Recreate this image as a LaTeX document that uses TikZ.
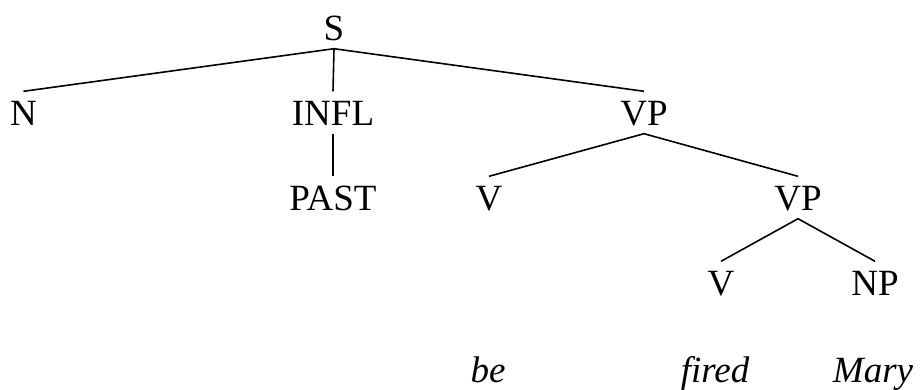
\documentclass[tikz,border=0pt]{standalone}
\usepackage{fontspec}
\setmainfont{Liberation Serif}
\usepackage{tikz}
\usetikzlibrary{positioning}

\begin{document}
\begin{tikzpicture}[x=1pt,y=-1pt,
    cat/.style={font=\fontsize{37}{40}\selectfont,anchor=base,inner xsep=0pt,inner ysep=8.5pt,text height=25pt,text depth=0pt},
    word/.style={font=\fontsize{37}{40}\selectfont\itshape,anchor=base,inner sep=0pt},
    branch/.style={line width=1.6pt}]
  \useasboundingbox (0,0) rectangle (920,389);
  % categories
  \node[cat] (s) at (334,40) {S};
  \node[cat] (n) at (23.5,125) {N};
  \node[cat] (infl) at (333,125) {INFL};
  \node[cat] (vpa) at (644,125) {VP};
  \node[cat] (past) at (333,210) {PAST};
  \node[cat] (va) at (489,210) {V};
  \node[cat] (vpb) at (798,210) {VP};
  \node[cat] (vb) at (721,295) {V};
  \node[cat] (np) at (875,295) {NP};
  % words
  \node[word] (be) at (488,382) {be};
  \node[word] (fired) at (715,382) {fired};
  \node[word] (mary) at (873,382) {Mary};
  % branches
  \draw[branch] (n.north) -- (s.south) -- (vpa.north);
  \draw[branch] (s.south) -- (infl.north);
  \draw[branch] (infl.south) -- (past.north);
  \draw[branch] (va.north) -- (vpa.south) -- (vpb.north);
  \draw[branch] (vb.north) -- (vpb.south) -- (np.north);
\end{tikzpicture}
\end{document}
